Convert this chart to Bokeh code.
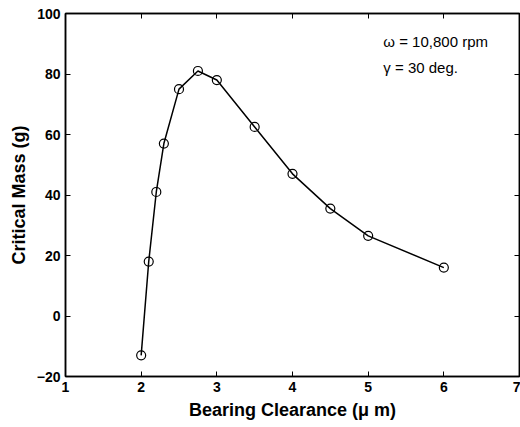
from bokeh.plotting import figure
from bokeh.models import LinearAxis, Range1d, FixedTicker, Label
from bokeh.embed import file_html
from bokeh.resources import INLINE

# Bearing clearance (micrometres) vs critical unbalance mass (g)
clearance = [2.0, 2.1, 2.2, 2.3, 2.5, 2.75, 3.0, 3.5, 4.0, 4.5, 5.0, 6.0]
critical_mass = [-13, 18, 41, 57, 75, 81, 78, 62.5, 47, 35.5, 26.5, 16]

x_ticks = [1, 2, 3, 4, 5, 6, 7]
y_ticks = [-20, 0, 20, 40, 60, 80, 100]

FONT = "Liberation Sans"

p = figure(width=520, height=427, output_backend="svg", toolbar_location=None,
           x_range=Range1d(1, 7), y_range=Range1d(-20, 100),
           min_border_left=65, min_border_right=1, min_border_top=13,
           min_border_bottom=51, x_axis_location=None, y_axis_location=None)
p.xgrid.visible = False
p.ygrid.visible = False
p.outline_line_color = "black"
p.outline_line_width = 1.5
p.background_fill_color = "white"
p.border_fill_color = "white"


def make_axis(ticks, show_labels, label=None):
    ax = LinearAxis(ticker=FixedTicker(ticks=ticks))
    ax.axis_line_color = "black"
    ax.axis_line_width = 1.5
    ax.major_tick_in = 5
    ax.major_tick_out = 0
    ax.major_tick_line_color = "black"
    ax.minor_tick_line_color = None
    ax.major_label_text_font = FONT
    ax.major_label_text_font_style = "bold"
    ax.major_label_text_font_size = "14px"
    ax.major_label_text_color = "black"
    ax.major_label_standoff = 5
    if not show_labels:
        # frame ticks only, no numbers on the top and right edges
        ax.major_label_overrides = {t: "" for t in ticks}
        ax.major_label_standoff = 0
    if label:
        ax.axis_label = label
        ax.axis_label_text_font = FONT
        ax.axis_label_text_font_style = "bold"
        ax.axis_label_text_font_size = "18px"
        ax.axis_label_text_color = "black"
        ax.axis_label_standoff = 5
    return ax


p.add_layout(make_axis(x_ticks, True, "Bearing Clearance (\u03bc m)"), "below")
p.add_layout(make_axis(y_ticks, True, "Critical Mass (g)"), "left")
p.add_layout(make_axis(x_ticks, False), "above")
p.add_layout(make_axis(y_ticks, False), "right")

p.line(clearance, critical_mass, line_color="black", line_width=1.5)
p.scatter(clearance, critical_mass, marker="circle", size=9,
          fill_color=None, line_color="black", line_width=1.2)

for txt, yv in [("\u03c9 = 10,800 rpm", 90.7), ("\u03b3 = 30 deg.", 82.1)]:
    p.add_layout(Label(x=5.2, y=yv, text=txt, text_font=FONT,
                       text_font_size="15px", text_color="black",
                       text_baseline="middle"))

open("out.html", "w").write(file_html(p, INLINE))
